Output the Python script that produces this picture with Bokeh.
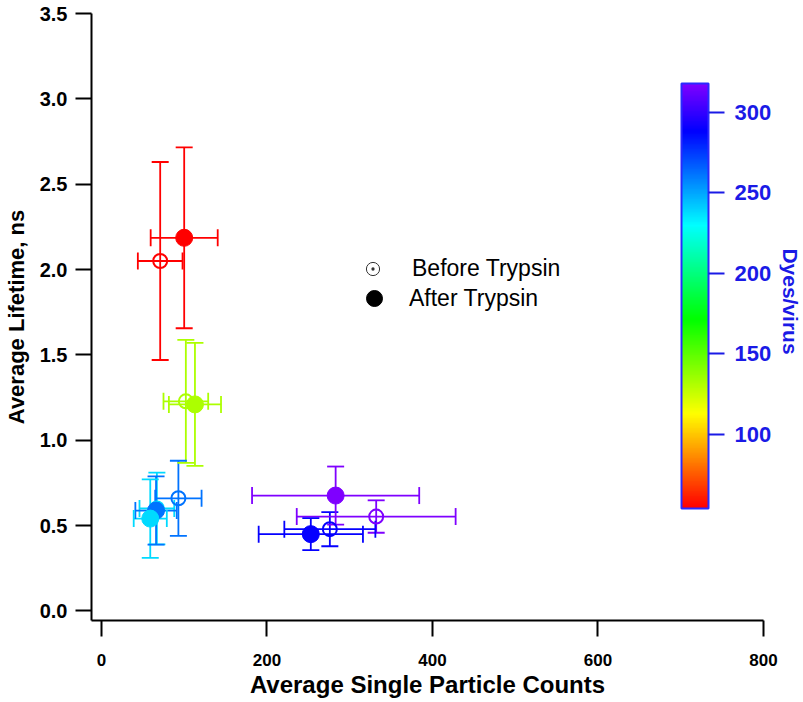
import math
import colorsys
from bokeh.plotting import figure
from bokeh.layouts import row
from bokeh.models import (ColumnDataSource, Range1d, FixedTicker, PrintfTickFormatter,
                          LinearColorMapper, ColorBar, Legend, LegendItem, Label)
from bokeh.embed import file_html
from bokeh.resources import INLINE

# ---------------- data ----------------
dyes_per_virus = [55, 132, 262, 238, 290, 318]
before_counts = [71, 102, 93, 67, 276, 332]
before_counts_err = [27, 27, 28, 21, 55, 96]
before_lifetime = [2.05, 1.228, 0.66, 0.60, 0.479, 0.553]
before_lifetime_err = [0.58, 0.36, 0.22, 0.21, 0.10, 0.095]
after_counts = [100, 113, 66, 59, 253, 283]
after_counts_err = [40.5, 31.5, 25, 20, 63, 101]
after_lifetime = [2.186, 1.21, 0.588, 0.541, 0.45, 0.676]
after_lifetime_err = [0.53, 0.36, 0.20, 0.23, 0.094, 0.17]

x_ticks = [0, 200, 400, 600, 800]
y_ticks = [0.0, 0.5, 1.0, 1.5, 2.0, 2.5, 3.0, 3.5]
cbar_ticks = [100, 150, 200, 250, 300]
cbar_low, cbar_high = 54, 318

FONT = "Liberation Sans"
BLUE_TXT = "#1a1ae6"

# rainbow palette red -> violet
palette = []
for i in range(256):
    h = (i / 255) * 270 / 360
    r, g, b = colorsys.hsv_to_rgb(h, 1, 1)
    palette.append("#%02x%02x%02x" % (int(r * 255), int(g * 255), int(b * 255)))
mapper = LinearColorMapper(palette=palette, low=cbar_low, high=cbar_high)
cmap = {"field": "dyes", "transform": mapper}


def make_source(xs, xe, ys, ye):
    return ColumnDataSource(dict(
        x=xs, y=ys, dyes=dyes_per_virus,
        x_lo=[a - b for a, b in zip(xs, xe)], x_hi=[a + b for a, b in zip(xs, xe)],
        y_lo=[a - b for a, b in zip(ys, ye)], y_hi=[a + b for a, b in zip(ys, ye)],
    ))


before = make_source(before_counts, before_counts_err, before_lifetime, before_lifetime_err)
after = make_source(after_counts, after_counts_err, after_lifetime, after_lifetime_err)

p = figure(width=779, height=700, output_backend="svg", toolbar_location=None,
           x_range=Range1d(-12, 800), y_range=Range1d(-0.056, 3.5),
           min_border_left=87, min_border_right=16, min_border_top=13, min_border_bottom=79)
p.outline_line_color = None
p.xgrid.visible = False
p.ygrid.visible = False
p.background_fill_color = "white"

EW = 1.8
CAP = 17
for src in (before, after):
    p.segment(x0="x", y0="y_lo", x1="x", y1="y_hi", source=src, line_color=cmap, line_width=EW)
    p.segment(x0="x_lo", y0="y", x1="x_hi", y1="y", source=src, line_color=cmap, line_width=EW)
    p.scatter(x="x", y="y_lo", source=src, marker="dash", size=CAP, line_color=cmap, line_width=EW)
    p.scatter(x="x", y="y_hi", source=src, marker="dash", size=CAP, line_color=cmap, line_width=EW)
    p.scatter(x="x_lo", y="y", source=src, marker="dash", size=CAP, angle=math.pi / 2,
              line_color=cmap, line_width=EW)
    p.scatter(x="x_hi", y="y", source=src, marker="dash", size=CAP, angle=math.pi / 2,
              line_color=cmap, line_width=EW)

p.scatter(x="x", y="y", source=before, marker="circle", size=14, fill_color=None,
          line_color=cmap, line_width=2)
p.scatter(x="x", y="y", source=after, marker="circle", size=17, fill_color=cmap,
          line_color=cmap, line_width=1)

# axes
for ax in (p.xaxis[0], p.yaxis[0]):
    ax.axis_line_width = 2
    ax.axis_line_color = "black"
    ax.major_tick_line_width = 2
    ax.major_tick_out = 16
    ax.major_tick_in = 0
    ax.minor_tick_line_color = None
    ax.major_label_text_font = FONT
    ax.major_label_text_font_style = "bold"
    ax.major_label_text_color = "black"
    ax.axis_label_text_font = FONT
    ax.axis_label_text_font_style = "bold"
    ax.axis_label_text_color = "black"

p.xaxis.ticker = FixedTicker(ticks=x_ticks)
p.yaxis.ticker = FixedTicker(ticks=y_ticks)
p.yaxis.formatter = PrintfTickFormatter(format="%.1f")
p.xaxis.major_label_text_font_size = "17px"
p.yaxis.major_label_text_font_size = "20px"
p.xaxis.major_label_standoff = 17
p.yaxis.major_label_standoff = 8
p.xaxis.axis_label = "Average Single Particle Counts"
p.yaxis.axis_label = "Average Lifetime, ns"
p.xaxis.axis_label_text_font_size = "24px"
p.yaxis.axis_label_text_font_size = "22px"
p.xaxis.axis_label_standoff = 2
p.yaxis.axis_label_standoff = 8

# color bar
cb = ColorBar(color_mapper=mapper, ticker=FixedTicker(ticks=cbar_ticks),
              width=27, height=425, location=(590, 112), padding=0, margin=0,
              bar_line_color="#2a2aff", bar_line_width=2,
              major_tick_line_color=BLUE_TXT, major_tick_line_width=2,
              major_tick_out=16, major_tick_in=0, minor_tick_line_color=None,
              major_label_text_color=BLUE_TXT, major_label_text_font=FONT,
              major_label_text_font_style="bold", major_label_text_font_size="22px",
              label_standoff=10, background_fill_alpha=0, border_line_color=None)
p.add_layout(cb)

# legend (glyph renderers with no visible points)
nan_src = ColumnDataSource(dict(x=[float("nan")], y=[float("nan")]))
r_before = p.scatter(x="x", y="y", source=nan_src, marker="circle_dot", size=13,
                     fill_color=None, line_color="#333333", line_width=1)
r_after = p.scatter(x="x", y="y", source=nan_src, marker="circle", size=16,
                    fill_color="black", line_color="black")
legend_kw = dict(orientation="vertical", padding=0, margin=0, border_line_color=None,
                 background_fill_alpha=0, label_text_font=FONT, label_text_font_size="23px",
                 label_text_color="black")
leg_before = Legend(items=[LegendItem(label="Before Trypsin", renderers=[r_before])],
                    location=(265, 335), glyph_width=33, glyph_height=33, label_height=33,
                    label_standoff=23, **legend_kw)
leg_after = Legend(items=[LegendItem(label="After Trypsin", renderers=[r_after])],
                   location=(263, 302), glyph_width=40, glyph_height=40, label_height=40,
                   label_standoff=15, **legend_kw)
p.add_layout(leg_before)
p.add_layout(leg_after)

# narrow strip on the right holding the colour-bar title (reads top to bottom)
strip = figure(width=24, height=700, output_backend="svg", toolbar_location=None,
               x_axis_location=None, y_axis_location=None,
               x_range=Range1d(0, 1), y_range=Range1d(0, 1),
               min_border_left=0, min_border_right=0, min_border_top=0, min_border_bottom=0)
strip.outline_line_color = None
strip.grid.visible = False
strip.add_layout(Label(x=11, y=319, x_units="screen", y_units="screen", text="Dyes/virus",
                       angle=-math.pi / 2, text_align="center", text_baseline="middle",
                       text_color=BLUE_TXT, text_font=FONT, text_font_style="bold",
                       text_font_size="21px"))

layout = row(p, strip)
open("out.html", "w").write(file_html(layout, INLINE))
